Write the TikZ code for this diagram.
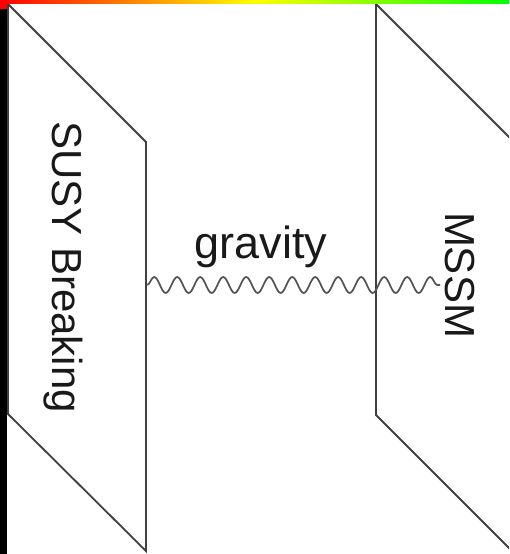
\documentclass[tikz,border=0pt]{standalone}
\usepackage{fontspec}
\setmainfont{Liberation Sans}
\usetikzlibrary{decorations.pathmorphing}
\begin{document}
\begin{tikzpicture}[x=1pt,y=1pt,
  plane/.style={draw=black!75, line width=1.8pt, line join=miter},
  wave/.style={draw=black!68, line width=1.7pt, decorate,
    decoration={snake, segment length=23pt, amplitude=8pt}},
  lbl/.style={inner sep=0pt, anchor=base, text=black!90,
    font=\fontsize{42}{50}\selectfont}]
\useasboundingbox (0,0) rectangle (509,-554);
\fill[white] (0,0) rectangle (509,-554);
\begin{scope}
\clip (0,0) rectangle (509,-554);
% left plane
\draw[plane] (8,-4) -- (146,-142) -- (146,-551) -- (8,-414) -- cycle;
% right plane
\draw[plane] (530,-158) -- (376,-4) -- (376,-415) -- (530,-569);
\end{scope}
% decorative bars
\shade[left color=red, right color=green, middle color=yellow] (0,0) rectangle (509,-3);
\fill[black] (0,-3) rectangle (7,-554);
\fill[red] (0,0) rectangle (7,-9);
% wave
\coordinate (wl) at (147,-285);
\coordinate (wr) at (440,-285);
\draw[wave] (wl) -- (wr);
% labels
\node[lbl, rotate=-90] (susy) at (52,-267) {SUSY Breaking};
\node[lbl, rotate=-90] (mssm) at (445,-275) {MSSM};
\node[lbl, font=\fontsize{45}{54}\selectfont] (grav) at (261,-258) {gravity};
\end{tikzpicture}
\end{document}
